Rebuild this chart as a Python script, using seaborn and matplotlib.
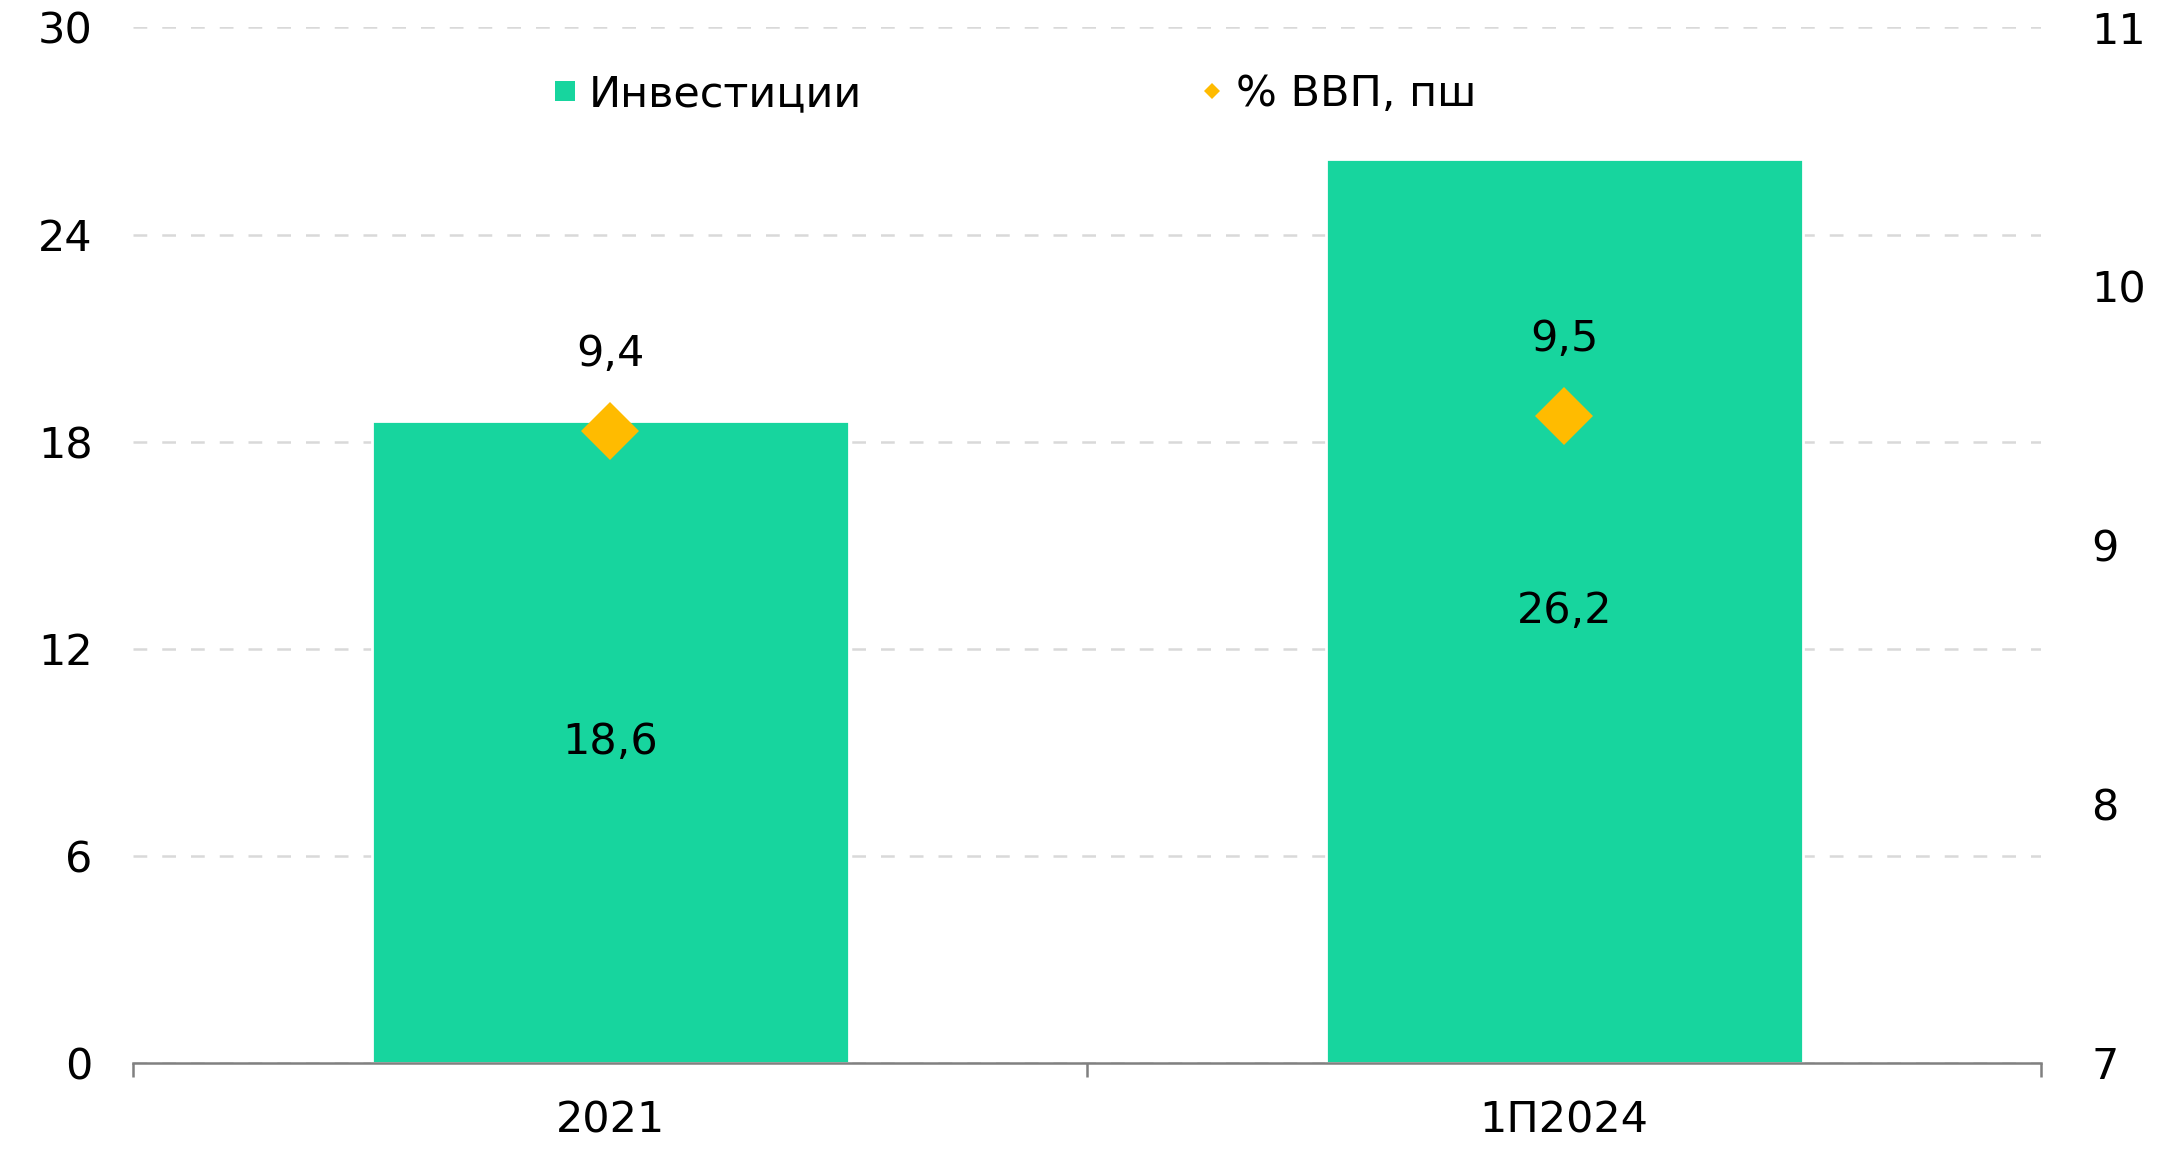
import numpy as np
import pandas as pd
import matplotlib
matplotlib.use('Agg')
import matplotlib.pyplot as plt
from matplotlib.lines import Line2D
import seaborn as sns

# chart values
periods = ['2021', '1П2024']
investments = [18.6, 26.2]
gdp_share = [9.44, 9.5]
left_ticks = [0, 6, 12, 18, 24, 30]
right_ticks = [7, 8, 9, 10, 11]

bar_color = '#17D59E'
dot_color = '#FFBB00'
grid_color = '#D9D9D9'
axis_color = '#808080'

sns.set_theme(style='white')
plt.rcParams['font.family'] = ['DejaVu Sans']
plt.rcParams['font.size'] = 15.5
plt.rcParams['text.color'] = 'black'

df = pd.DataFrame({'period': periods, 'invest': investments, 'gdp': gdp_share})

fig = plt.figure(figsize=(10.8, 5.77), dpi=200)
ax = fig.add_axes([0.0616, 0.0789, 0.8834, 0.8973])

# bars on the left axis
sns.barplot(data=df, x='period', y='invest', color=bar_color, saturation=1,
            width=0.5, ax=ax, zorder=2)
ax.bar_label(ax.containers[0],
             labels=[f'{v:.1f}'.replace('.', ',') for v in investments],
             label_type='center', fontsize=15.5, color='black')

ax.set_ylim(0, 30)
ax.set_yticks(left_ticks)
ax.set_yticklabels([str(t) for t in left_ticks])
ax.yaxis.grid(True, color=grid_color, linestyle=(0, (5.5, 6)), linewidth=0.9)
ax.set_axisbelow(True)
ax.tick_params(axis='y', length=0, pad=14.5, labelsize=15.5, labelcolor='black')
ax.set_xlabel('')
ax.set_ylabel('')
for s in ['left', 'right', 'top']:
    ax.spines[s].set_visible(False)
ax.spines['bottom'].set_color(axis_color)
ax.spines['bottom'].set_linewidth(0.9)

# diamonds on the right axis
ax2 = ax.twinx()
sns.pointplot(data=df, x='period', y='gdp', color=dot_color, markers='D',
              linestyle='none', markersize=15, markeredgewidth=0,
              errorbar=None, ax=ax2)
ax2.set_ylim(7, 11)
ax2.set_yticks(right_ticks)
ax2.set_yticklabels([str(t) for t in right_ticks])
ax2.tick_params(axis='y', length=0, pad=18, labelsize=15.5, labelcolor='black')
ax2.set_ylabel('')
ax2.set_xlabel('')
for s in ['left', 'right', 'top', 'bottom']:
    ax2.spines[s].set_visible(False)
for i, v in enumerate(gdp_share):
    ax2.annotate(f'{v:.1f}'.replace('.', ','), (i, v), xytext=(0, 27.7),
                 textcoords='offset points', ha='center', va='center',
                 fontsize=15.5, color='black')

# category axis: separator ticks between categories, labels at centres
ax.set_xlim(-0.5, len(periods) - 0.5)
ax.set_xticks(np.arange(len(periods) + 1) - 0.5)
ax.set_xticklabels([])
ax.set_xticks(np.arange(len(periods)), minor=True)
ax.set_xticklabels(periods, minor=True)
ax.tick_params(axis='x', which='major', length=5, width=0.9, color=axis_color,
               direction='out', bottom=True)
ax.tick_params(axis='x', which='minor', length=0, pad=13, labelsize=15.5,
               labelcolor='black', bottom=True)

handles = [
    Line2D([], [], linestyle='none', marker='s', markersize=7,
           markerfacecolor=bar_color, markeredgewidth=0, label='Инвестиции'),
    Line2D([], [], linestyle='none', marker='D', markersize=4.3,
           markerfacecolor=dot_color, markeredgewidth=0, label='% ВВП, пш'),
]
fig.legend(handles=handles, loc='center', bbox_to_anchor=(0.470, 0.9185),
           ncol=2, frameon=False, fontsize=15.5, handlelength=0.5,
           handletextpad=0.3, columnspacing=7.9, labelcolor='black')

fig.savefig('out.png', dpi=200, facecolor='white')
